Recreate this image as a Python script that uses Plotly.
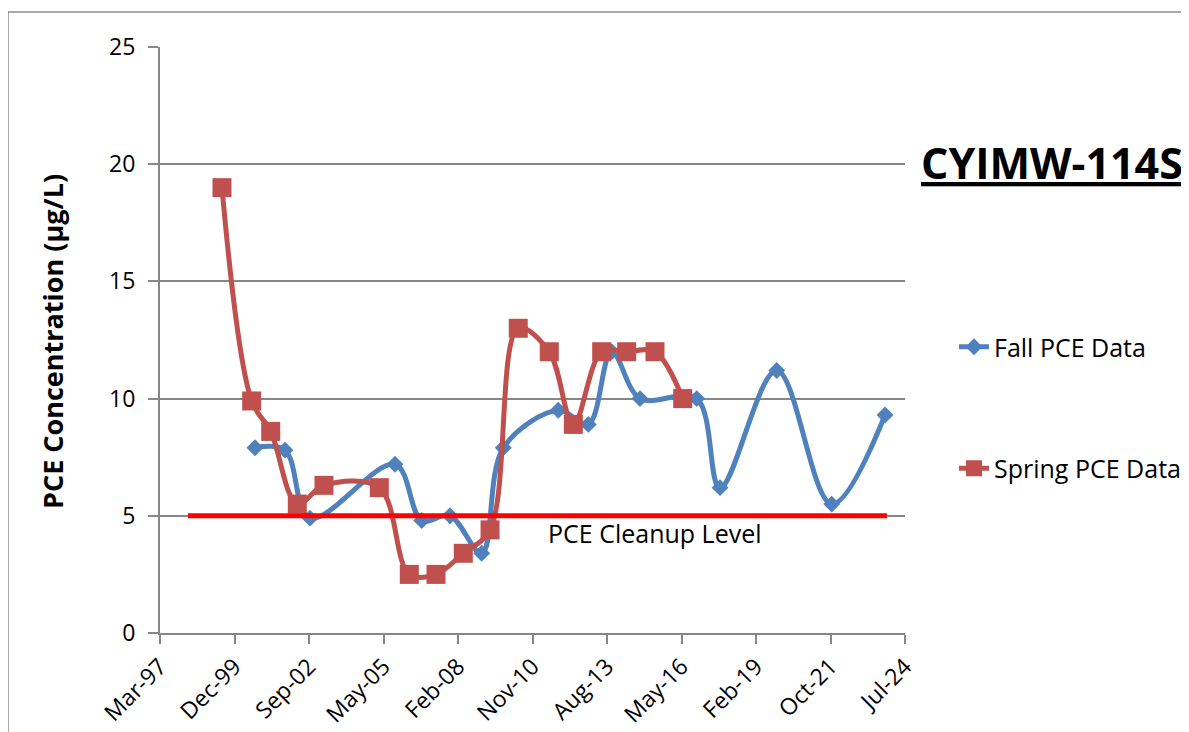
import pandas as pd
import plotly.graph_objects as go

# ---------------- data ----------------
fall_dates = ["2000-09-06", "2001-10-14", "2002-09-14", "2005-10-29", "2006-10-23",
              "2007-11-07", "2009-01-05", "2009-10-22", "2011-10-30", "2012-12-06",
              "2013-10-16", "2014-10-31", "2016-11-30", "2017-10-09", "2019-11-09",
              "2021-11-16", "2023-11-02"]
fall_pce = [7.9, 7.8, 4.9, 7.2, 4.8, 5.0, 3.4, 7.9, 9.5, 8.9, 12.0, 10.0, 10.0,
            6.2, 11.2, 5.5, 9.3]

spring_dates = ["1999-06-21", "2000-07-24", "2001-04-05", "2002-03-28", "2003-03-21",
                "2005-04-02", "2006-05-09", "2007-05-03", "2008-05-03", "2009-04-27",
                "2010-05-11", "2011-07-01", "2012-05-19", "2013-06-04", "2014-05-05",
                "2015-05-20", "2016-05-26"]
spring_pce = [19.0, 9.9, 8.6, 5.5, 6.3, 6.2, 2.5, 2.5, 3.4, 4.4, 13.0, 12.0, 8.9,
              12.0, 12.0, 12.0, 10.0]

cleanup_dates = ["1998-03-22", "2023-11-28"]
cleanup_level = [5, 5]

axis_start = "1997-03-11"          # Excel serial 35500
axis_step_days = 1000
tick_labels = ["Mar-97", "Dec-99", "Sep-02", "May-05", "Feb-08", "Nov-10",
               "Aug-13", "May-16", "Feb-19", "Oct-21", "Jul-24"]
y_ticks = [0, 5, 10, 15, 20, 25]

# ---------------- styling ----------------
FONT = "Open Sans"
BLUE = "#4F81BD"
RED = "#C0504D"
GRID = "#878787"

start = pd.Timestamp(axis_start)
tick_vals = [start + pd.Timedelta(days=axis_step_days * k) for k in range(len(tick_labels))]
x_end = tick_vals[-1]

fig = go.Figure()

fig.add_trace(go.Scatter(
    x=pd.to_datetime(fall_dates), y=fall_pce, name="Fall PCE Data",
    mode="lines+markers", legendgroup="fall",
    line=dict(color=BLUE, width=5, shape="spline", smoothing=1),
    marker=dict(symbol="diamond", size=13, color=BLUE),
))
fig.add_trace(go.Scatter(
    x=pd.to_datetime(spring_dates), y=spring_pce, name="Spring PCE Data",
    mode="lines+markers", legendgroup="spring",
    line=dict(color=RED, width=5, shape="spline", smoothing=1),
    marker=dict(symbol="square", size=19, color=RED),
))
fig.add_trace(go.Scatter(
    x=pd.to_datetime(cleanup_dates), y=cleanup_level, name="PCE Cleanup Level",
    mode="lines", showlegend=False,
    line=dict(color="#FF0000", width=5),
))

# page body adds an 8px offset; screen coordinates = figure coordinates + 8
OFF = 8
W, H = 1189, 732
PX0, PX1, PY0, PY1 = 160, 905, 47, 633   # plot area in screen px
L, T = PX0 - OFF, PY0 - OFF
pw, ph = PX1 - PX0, PY1 - PY0
R, B = W - L - pw, H - T - ph

def px_x(x):
    return (x - PX0) / pw

def px_y(y):
    return (PY1 - y) / ph

fig.update_layout(
    width=W, height=H,
    margin=dict(l=L, r=R, t=T, b=B, autoexpand=False),
    paper_bgcolor="white", plot_bgcolor="white",
    font=dict(family=FONT, size=23, color="#000000"),
    showlegend=True,
    legend=dict(
        x=px_x(954), y=px_y(324), xanchor="left", yanchor="top",
        font=dict(family=FONT, size=25, color="#000000"),
        tracegroupgap=86, bgcolor="rgba(0,0,0,0)",
    ),
    xaxis=dict(
        type="date", range=[start, x_end],
        tickvals=tick_vals, ticktext=tick_labels, tickangle=-45,
        showgrid=False, zeroline=False,
        showline=True, linecolor=GRID, linewidth=2,
        ticks="outside", ticklen=9, tickwidth=2, tickcolor=GRID,
        tickfont=dict(family=FONT, size=23, color="#000000"),
    ),
    yaxis=dict(
        range=[0, 25], tickvals=y_ticks,
        showgrid=True, gridcolor=GRID, gridwidth=1.5, zeroline=False,
        showline=True, linecolor=GRID, linewidth=2,
        ticks="outside", ticklen=10, tickwidth=2, tickcolor=GRID,
        ticklabelstandoff=8,
        tickfont=dict(family=FONT, size=23, color="#000000"),
    ),
    annotations=[
        dict(text="<b>PCE Concentration (µg/L)</b>", xref="paper", yref="paper",
             x=px_x(52), y=px_y(342), textangle=-90, showarrow=False,
             xanchor="center", yanchor="middle",
             font=dict(family=FONT, size=27, color="#000000")),
        dict(text="<b><u>CYIMW-114S</u></b>", xref="paper", yref="paper",
             x=px_x(1052), y=px_y(163), showarrow=False,
             xanchor="center", yanchor="middle",
             font=dict(family=FONT, size=43, color="#000000")),
        dict(text="PCE Cleanup Level", xref="paper", yref="paper",
             x=px_x(655), y=px_y(533), showarrow=False,
             xanchor="center", yanchor="middle",
             font=dict(family=FONT, size=25, color="#000000")),
    ],
    shapes=[
        dict(type="rect", xref="paper", yref="paper",
             x0=px_x(8), y0=px_y(800), x1=px_x(1300), y1=px_y(12),
             line=dict(color="#8C8C8C", width=1.5), fillcolor="rgba(0,0,0,0)",
             layer="below"),
    ],
)

fig.write_html("out.html")
